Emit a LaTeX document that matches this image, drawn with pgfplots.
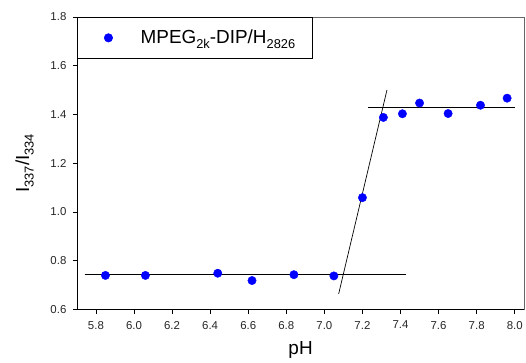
\documentclass[border=0pt]{standalone}
\usepackage{fontspec}
\setmainfont{Liberation Sans}
\usepackage{pgfplots}
\pgfplotsset{compat=1.18}
\newcommand{\sub}[1]{\raisebox{-0.45ex}{\fontsize{0.68em}{1em}\selectfont #1}}
\begin{document}
\begin{tikzpicture}
\begin{axis}[
  scale only axis,
  width=448bp, height=293bp,
  xmin=5.7, xmax=8.05, ymin=0.6, ymax=1.8,
  xtick={5.8,6.0,...,8.01}, ytick={0.6,0.8,...,1.81},
  axis x line*=bottom, axis y line*=left,
  tick align=outside, major tick length=4bp,
  tick style={black, line width=0.6pt},
  xticklabel style={yshift=-4bp},
  yticklabel style={xshift=-3bp},
  xticklabel style={/pgf/number format/.cd, fixed, fixed zerofill, precision=1},
  yticklabel style={/pgf/number format/.cd, fixed, fixed zerofill, precision=1},
  /pgf/number format/assume math mode=true,
  ticklabel style={font=\fontsize{11.5}{13}\selectfont, text=black!85},
  xlabel={pH}, ylabel={I\sub{337}/I\sub{334}},
  label style={font=\fontsize{19}{22}\selectfont},
  xlabel style={yshift=-6bp},
  ylabel style={yshift=10bp},
  legend style={at={(0,1)}, anchor=north west, draw=black, line width=0.6pt,
    font=\fontsize{19}{22}\selectfont, inner xsep=15bp, inner ysep=11bp,
    legend cell align=left},
  legend image code/.code={\path (0,-4bp) (46bp,4bp); \draw[only marks,#1] plot coordinates {(16bp,0bp)};},
  clip=false,
]
\addplot[only marks, mark=*, mark size=4.2bp, color=blue, mark options={fill=blue, draw=blue}]
coordinates {
(5.85,0.740) (6.06,0.740) (6.44,0.749) (6.62,0.719) (6.84,0.743) (7.05,0.738)
(7.20,1.059) (7.31,1.388) (7.41,1.403) (7.50,1.447) (7.65,1.404) (7.82,1.438) (7.96,1.467)
};
\addlegendentry{MPEG\sub{2k}-DIP/H\sub{2826}}
\addplot[black, line width=0.7pt, forget plot] coordinates {(5.74,0.743) (7.43,0.743)};
\addplot[black, line width=0.7pt, forget plot] coordinates {(7.23,1.431) (8.0,1.431)};
\addplot[black, line width=0.7pt, forget plot] coordinates {(7.075,0.664) (7.329,1.501)};
\draw[black!60, line width=0.8pt] (rel axis cs:0,1) -- (rel axis cs:1,1) -- (rel axis cs:1,0);
\end{axis}
\path (current axis.south west) ++(-77bp,-52bp) (current axis.north east) ++(1bp,17bp);
\end{tikzpicture}
\end{document}
